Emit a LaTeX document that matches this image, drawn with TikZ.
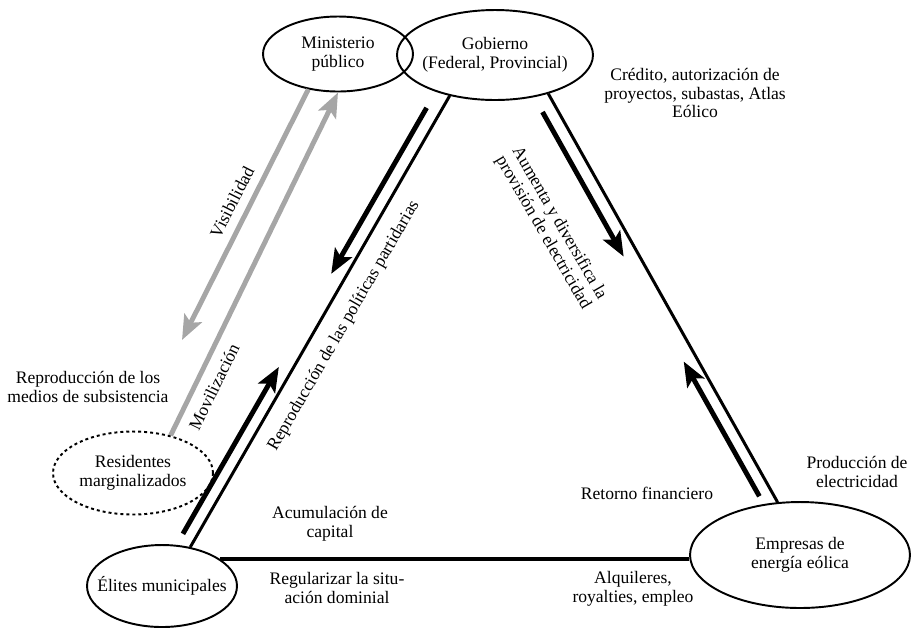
\documentclass[tikz,border=0pt]{standalone}
\usepackage{fontspec}
\setmainfont{Liberation Serif}
\usetikzlibrary{shapes.geometric, arrows.meta, calc}
\definecolor{gray}{RGB}{166, 166, 166}

\begin{document}
\begin{tikzpicture}[x=0.02cm, y=-0.02cm,
        font=\fontsize{10}{10.6}\selectfont,
        actor/.style={ellipse, draw, line width=1.1pt, inner xsep=-0.4cm, inner ysep=0pt, align=center},
        side/.style={line width=1.7pt},
        flow/.style={line width=2.8pt, -{Stealth[length=14pt, width=11pt, inset=3pt]}},
        lbl/.style={align=center, inner sep=0pt}]
        \useasboundingbox (0,0) rectangle (915,627);

        % Actors
        \node[actor, minimum width=3cm, minimum height=1.5cm] (minis) at (338,54) {Ministerio\\público};
        \node[actor, minimum width=3.92cm, minimum height=1.8cm] (gob) at (495,55) {Gobierno\\(Federal, Provincial)};
        \node[actor, dash pattern=on 1.7pt off 1.7pt, minimum width=3.2cm, minimum height=1.66cm] (resid) at (133,473) {Residentes\\marginalizados};
        \node[actor, minimum width=3cm, minimum height=1.64cm] (elites) at (162,586) {Élites municipales};
        \node[actor, minimum width=4.4cm, minimum height=2.12cm] (empr) at (800,555) {Empresas de\\energía eólica};

        % Triangle sides
        \coordinate (el) at (elites.54);
        \coordinate (gl) at (gob.222);
        \coordinate (gr) at (gob.-36);
        \coordinate (er) at (empr.113);
        \draw[side] (el) -- (gl);
        \draw[side] (gr) -- (er);
        \draw[line width=2.6pt] (elites.25) -- (elites.25 -| empr.west);

        % Flows along the sides
        \draw[flow] ($(el)!0.015!(gl)!0.26cm!90:(gl)$) -- ($(el)!0.385!(gl)!0.26cm!90:(gl)$);
        \draw[flow] ($(el)!0.958!(gl)!0.28cm!90:(gl)$) -- ($(el)!0.59!(gl)!0.28cm!90:(gl)$);
        \draw[flow] ($(gr)!0.028!(er)!0.28cm!-90:(er)$) -- ($(gr)!0.382!(er)!0.28cm!-90:(er)$);
        \draw[flow] ($(gr)!0.97!(er)!0.26cm!-90:(er)$) -- ($(gr)!0.64!(er)!0.26cm!-90:(er)$);

        % Gray flows with the Ministerio
        \coordinate (visend) at (182,340);
        \draw[flow, gray] (minis.230) -- (visend);
        \draw[flow, gray] (resid.45) -- (minis.south);

        % Labels
        \node[lbl, rotate=63] (vis) at (232,202) {Visibilidad};
        \node[lbl, rotate=64] (movil) at (214,387) {Movilización};
        \node[lbl, rotate=60] (partid) at (344,326) {Reproducción de las políticas partidarias};
        \node[lbl, rotate=-60] (aumenta) at (551,228) {Aumenta y diversifica la\\provisión de electricidad};
        \node[lbl] (credito) at (695,93) {Crédito, autorización de\\proyectos, subastas, Atlas\\Eólico};
        \node[lbl] (subsist) at (88,387) {Reproducción de los\\medios de subsistencia};
        \node[lbl] (acum) at (330,524) {Acumulación de\\capital};
        \node[lbl] (regul) at (337,588) {Regularizar la situ-\\ación dominial};
        \node[lbl] (retorno) at (647,493) {Retorno financiero};
        \node[lbl] (produc) at (857,472) {Producción de\\electricidad};
        \node[lbl] (alquil) at (633,589) {Alquileres,\\royalties, empleo};
\end{tikzpicture}
\end{document}
